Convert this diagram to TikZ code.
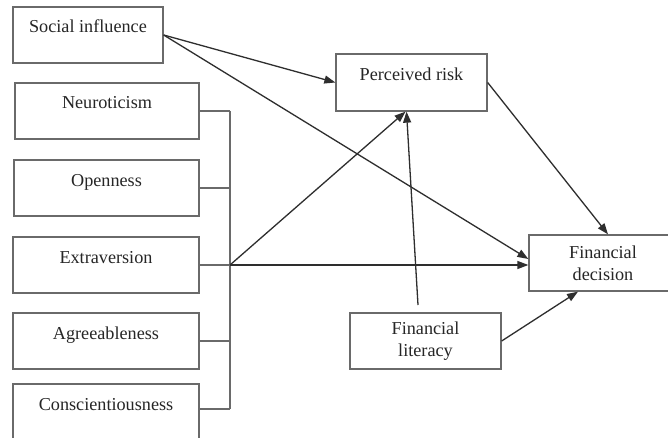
\documentclass[tikz,border=0pt]{standalone}
\usepackage{fontspec}
\setmainfont{Liberation Serif}
\usetikzlibrary{arrows.meta}
\definecolor{boxline}{HTML}{6A6A6A}
\definecolor{arrline}{HTML}{2E2E2E}
\definecolor{txt}{HTML}{262626}
\begin{document}
\begin{tikzpicture}[x=1pt,y=-1pt,
  topbox/.style={draw=boxline, line width=1.3pt, rectangle, inner sep=0pt,
    text=txt, font=\fontsize{18.2}{22}\selectfont,
    text height=26pt, text depth=30pt, minimum height=56pt},
  midbox/.style={draw=boxline, line width=1.3pt, rectangle, inner sep=0pt,
    text=txt, font=\fontsize{18.2}{22}\selectfont, align=center,
    minimum height=56pt},
  link/.style={draw=boxline, line width=1.2pt},
  arr/.style={draw=arrline, line width=1.3pt, -{Triangle[length=11pt,width=8pt]}}
]
\clip (0,0) rectangle (668,438);
\fill[white] (0,0) rectangle (668,438);

% left boxes
\node[topbox, minimum width=150pt] (soc) at (88,35) {Social influence};
\node[topbox, minimum width=184pt] (neu) at (107,111) {Neuroticism};
\node[topbox, minimum width=185pt] (ope) at (106.5,188) {Openness};
\node[topbox, minimum width=186pt] (ext) at (106,265) {Extraversion};
\node[topbox, minimum width=186pt] (agr) at (106,341) {Agreeableness};
\node[topbox, minimum width=186pt] (con) at (106,412) {Conscientiousness};

% right boxes
\node[topbox, minimum width=151pt, minimum height=57pt] (per) at (411.5,82.5) {Perceived risk};
\node[midbox, minimum width=148pt] (dec) at (603,263) {Financial\\decision};
\node[midbox, minimum width=151pt] (lit) at (425.5,341) {Financial\\literacy};

% bracket
\coordinate (jtop) at (230,111);
\coordinate (j) at (230,265);
\coordinate (jbot) at (230,409);
\coordinate (litTop) at (418,305);

\draw[link] (neu.east) -- (jtop);
\draw[link] (ope.east) -- (230,188);
\draw[link] (ext.east) -- (j);
\draw[link] (agr.east) -- (230,341);
\draw[link] (con.east |- jbot) -- (jbot);
\draw[link] (jtop) -- (jbot);

% arrows
\draw[arr] (soc.east) -- (per.west);
\draw[arr] (soc.east) -- ([yshift=4pt]dec.west);
\draw[arr] (j) -- ([xshift=-6pt]per.south);
\draw[arr] (j) -- (j -| dec.west);
\draw[arr] (litTop) -- ([xshift=-5pt]per.south);
\draw[arr] (per.east) -- ([xshift=5pt]dec.north);
\draw[arr] (lit.east) -- ([xshift=-25pt]dec.south);
\end{tikzpicture}
\end{document}
